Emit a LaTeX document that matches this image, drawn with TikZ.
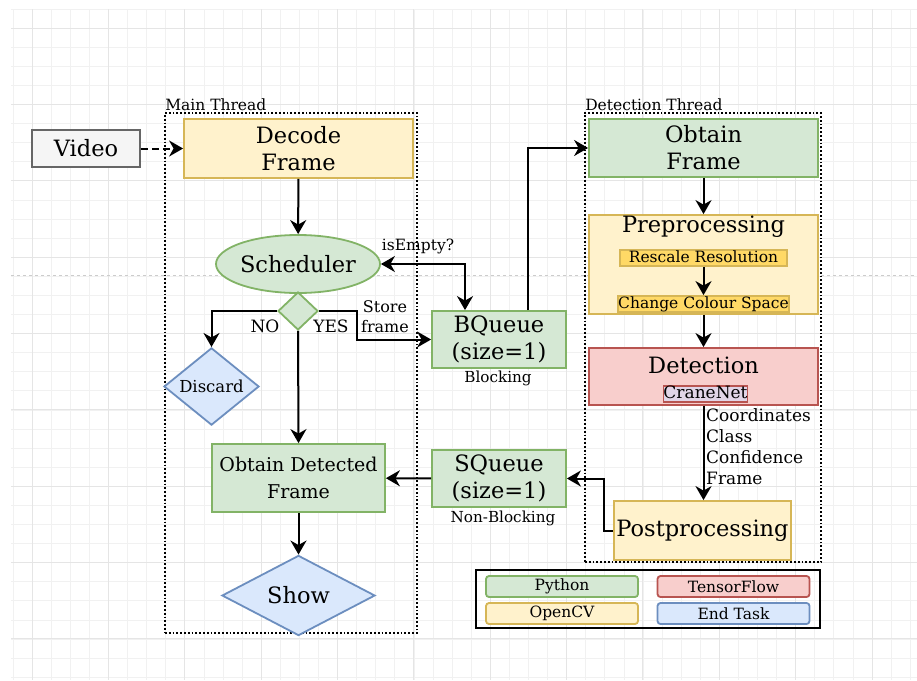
\documentclass[tikz,border=0pt]{standalone}
\usepackage{fontspec}
\setmainfont{DejaVu Serif}
\usepackage{tikz}
\usetikzlibrary{arrows.meta,shapes.geometric}

\definecolor{pyfill}{HTML}{D5E8D4}
\definecolor{pyline}{HTML}{82B366}
\definecolor{cvfill}{HTML}{FFF2CC}
\definecolor{cvline}{HTML}{D6B656}
\definecolor{cvdark}{HTML}{FFD966}
\definecolor{tffill}{HTML}{F8CECC}
\definecolor{tfline}{HTML}{B85450}
\definecolor{endfill}{HTML}{DAE8FC}
\definecolor{endline}{HTML}{6C8EBF}
\definecolor{netfill}{HTML}{E1D5E7}
\definecolor{vidfill}{HTML}{F5F5F5}
\definecolor{vidline}{HTML}{666666}
\definecolor{gridminor}{HTML}{F1F1F1}
\definecolor{gridmajor}{HTML}{E5E5E5}

\begin{document}
\begin{tikzpicture}[
    x=1pt, y=-1pt,
    >={Stealth[length=14pt, width=16pt, inset=4.5pt]},
    box/.style={
        rectangle, draw, line width=1.8pt,
        inner sep=0pt, align=center
    },
    pybox/.style={box, fill=pyfill, draw=pyline},
    cvbox/.style={box, fill=cvfill, draw=cvline},
    tfbox/.style={box, fill=tffill, draw=tfline},
    endbox/.style={box, fill=endfill, draw=endline},
    big/.style={font=\fontsize{22.5}{27}\selectfont},
    mid/.style={font=\fontsize{17}{21}\selectfont},
    sml/.style={font=\fontsize{15.5}{19}\selectfont},
    tiny/.style={font=\fontsize{15.2}{18}\selectfont},
    thread/.style={rectangle, draw, dotted, line width=1.8pt},
    lgd/.style={box, rounded corners=3pt, minimum width=152, minimum height=21, sml},
    arr/.style={->, line width=2pt},
    arrs/.style={<->, line width=2pt}
]
\useasboundingbox (0,0) rectangle (917,680);
\fill[white] (0,0) rectangle (917,680);
\foreach \i in {-1,...,46}
    \draw[gridminor, line width=0.6pt] ({32+19.09*\i},9) -- ({32+19.09*\i},680);
\foreach \i in {-1,...,34}
    \draw[gridminor, line width=0.6pt] (11,{28+19.09*\i}) -- (917,{28+19.09*\i});
\foreach \i in {0,...,11}
    \draw[gridmajor, line width=0.8pt] ({32+76.36*\i},9) -- ({32+76.36*\i},680);
\foreach \i in {0,...,8}
    \draw[gridmajor, line width=0.8pt] (11,{28+76.36*\i}) -- (917,{28+76.36*\i});
\draw[gray!40, dashed, line width=0.6pt] (11,275) -- (917,275);

\node[thread, minimum width=252, minimum height=520] (mainT) at (291,373) {};
\node[sml, anchor=south west, inner sep=1pt] at (mainT.north west) {Main Thread};
\node[thread, minimum width=236, minimum height=449] (detT) at (703,337.5) {};
\node[sml, anchor=south west, inner sep=1pt] at (detT.north west) {Detection Thread};

\node[box, fill=vidfill, draw=vidline, minimum width=108, minimum height=37, big] (video) at (86,148.5) {Video};
\node[cvbox, minimum width=229, minimum height=59, big] (dec) at (298.5,148.5) {Decode\\Frame};
\node[ellipse, draw=pyline, fill=pyfill, line width=1.8pt, inner sep=0pt,
      minimum width=116, minimum height=58, big] (sched) at (298,264) {Scheduler};
\node[diamond, draw=pyline, fill=pyfill, line width=1.8pt, inner sep=0pt,
      minimum width=40, minimum height=38] (chk) at (298,311) {};
\node[diamond, draw=endline, fill=endfill, line width=1.8pt, inner sep=0pt,
      minimum width=95, minimum height=57, font=\fontsize{16.5}{19}\selectfont] (disc) at (211.5,386.5) {Discard};
\node[pybox, minimum width=173, minimum height=68, font=\fontsize{19}{27}\selectfont] (odf) at (298.5,478) {Obtain Detected\\Frame};
\node[diamond, draw=endline, fill=endfill, line width=1.8pt, inner sep=0pt,
      minimum width=153, minimum height=71, big] (show) at (298.5,595.5) {Show};

\node[pybox, minimum width=134, minimum height=57, big] (bq) at (499,339.5) {BQueue\\(size=1)};
\node[tiny] at (498,378) {Blocking};
\node[pybox, minimum width=134, minimum height=57, big] (sq) at (499,478.5) {SQueue\\(size=1)};
\node[tiny] at (503,518) {Non-Blocking};

\node[pybox, minimum width=229, minimum height=58, big] (of) at (703.5,148) {Obtain\\Frame};
\node[cvbox, minimum width=229, minimum height=99] (pre) at (703.5,264.5) {};
\node[big] at (703.5,227) {Preprocessing};
\node[box, fill=cvdark, draw=cvline, minimum width=167, minimum height=16,
      text height=11pt, text depth=3pt, sml] (rr) at (703.5,258) {Rescale Resolution};
\node[box, fill=cvdark, draw=cvline, minimum width=171, minimum height=16,
      text height=11pt, text depth=3pt, sml] (ccs) at (703.5,304) {Change Colour Space};
\node[tfbox, minimum width=229, minimum height=57] (det) at (703.5,376.5) {};
\node[big] at (703.5,365) {Detection};
\node[box, fill=netfill, draw=tfline, minimum width=81, minimum height=16,
      text height=11pt, text depth=3pt, mid] (cn) at (705.5,394) {CraneNet};
\node[cvbox, minimum width=177, minimum height=59, big] (post) at (702.5,530.5) {Postprocessing};

\node[draw, line width=2.4pt, minimum width=344, minimum height=58] (legend) at (648,599) {};
\node[lgd, fill=pyfill, draw=pyline] (py) at (562,586.5) {Python};
\node[lgd, fill=tffill, draw=tfline] (tf) at (733.5,586.5) {TensorFlow};
\node[lgd, fill=cvfill, draw=cvline] (ocv) at (562,613.5) {OpenCV};
\node[lgd, fill=endfill, draw=endline] (et) at (733.5,613.5) {End Task};

\draw[arr, dash pattern=on 7pt off 4pt] (video) -- (dec);
\draw[arr] (dec) -- (sched);
\draw[arr] (chk.west) -| (disc.north);
\node[mid] at (265,326) {NO};
\node[mid] at (331,326) {YES};
\draw[arr] (chk.east) -- ++(38,0) |- (bq.west);
\node[font=\fontsize{16}{20}\selectfont, align=center] at (385,317) {Store\\frame};
\draw[arr] (chk.south) -- (odf.north);
\draw[arrs] (sched.east) -| ([xshift=-34pt]bq.north);
\node[sml] at (418,246) {isEmpty?};
\draw[arr] ([xshift=29pt]bq.north) |- (of.west);
\draw[arr] (of) -- (pre);
\draw[arr] (rr) -- (ccs);
\draw[arr] (pre) -- (det);
\draw[arr] (det.south) -- (det.south |- post.north);
\node[mid, anchor=north west, inner sep=0pt, align=left] at (706,408) {Coordinates\\Class\\Confidence\\Frame};
\draw[arr] (post.west) -- ++(-9,0) |- (sq.east);
\draw[arr] (sq) -- (odf);
\draw[arr] (odf) -- (show);
\end{tikzpicture}
\end{document}
